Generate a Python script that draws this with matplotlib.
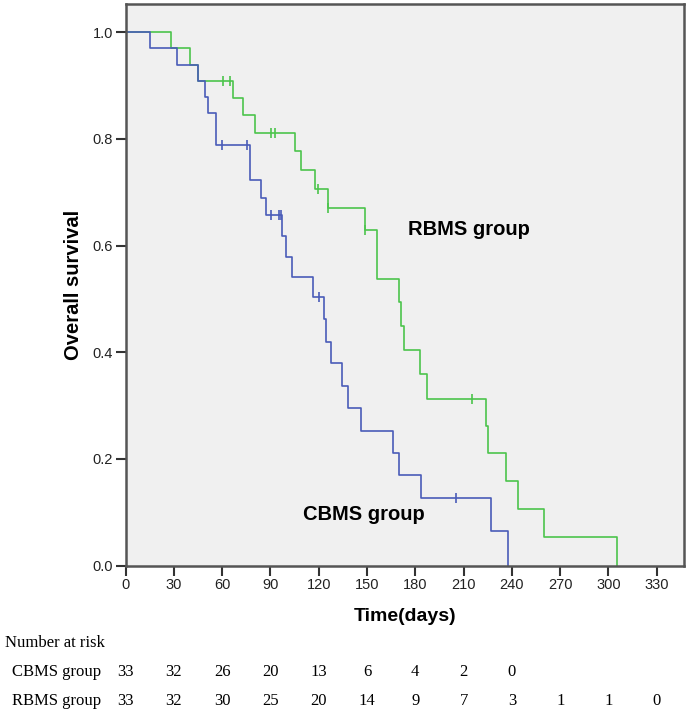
import matplotlib.pyplot as plt
import matplotlib.transforms as mtransforms

# CBMS group (blue): time of each drop (days) and survival after it
cbms_t = [0, 15.2, 32.2, 45.2, 49.4, 51.4, 56.4, 77.3, 84.2, 87.5, 97.2, 99.7,
          103.2, 116.3, 123.3, 124.3, 127.5, 134.3, 138.4, 146.3, 166.0, 170.0,
          183.4, 227.0, 237.4]
cbms_s = [1.0, 0.970, 0.939, 0.909, 0.879, 0.848, 0.788, 0.723, 0.690, 0.657,
          0.617, 0.578, 0.541, 0.503, 0.463, 0.420, 0.379, 0.337, 0.295, 0.253,
          0.211, 0.169, 0.127, 0.064, 0.0]
cbms_cens_t = [60.1, 75.3, 90.4, 95.5, 96.8, 120.2, 205.1]
cbms_cens_s = [0.788, 0.788, 0.657, 0.657, 0.657, 0.503, 0.127]

# RBMS group (green)
rbms_t = [0, 28.3, 40.1, 45.2, 67.0, 73.2, 80.4, 105.3, 109.0, 117.7, 126.0,
          148.8, 156.2, 170.1, 171.1, 172.8, 182.9, 187.1, 223.7, 225.0, 236.1,
          244.0, 259.9, 305.1]
rbms_s = [1.0, 0.970, 0.939, 0.909, 0.877, 0.844, 0.812, 0.777, 0.742, 0.707,
          0.670, 0.630, 0.538, 0.494, 0.449, 0.404, 0.360, 0.313, 0.262, 0.211,
          0.158, 0.106, 0.053, 0.0]
rbms_cens_t = [60.4, 64.9, 90.6, 92.9, 119.8, 126.0, 148.8, 215.0]
rbms_cens_s = [0.909, 0.909, 0.812, 0.812, 0.707, 0.670, 0.630, 0.313]

# number at risk table
risk_times = [0, 30, 60, 90, 120, 150, 180, 210, 240, 270, 300, 330]
cbms_risk = [33, 32, 26, 20, 13, 6, 4, 2, 0]
rbms_risk = [33, 32, 30, 25, 20, 14, 9, 7, 3, 1, 1, 0]

blue = '#4a5cb8'
green = '#4cc44c'
sans = ['Liberation Sans', 'DejaVu Sans']
narrow = ['Liberation Sans Narrow', 'Liberation Sans', 'DejaVu Sans']
serif = ['Liberation Serif', 'DejaVu Serif']

fig = plt.figure(figsize=(6.89, 7.12), dpi=100)
ax = fig.add_axes([125.5 / 689, 1 - 565.5 / 712, 558.5 / 689, 561.5 / 712])
ax.set_facecolor('#f0f0f0')

ax.step(rbms_t, rbms_s, where='post', color=green, lw=1.2)
ax.step(cbms_t, cbms_s, where='post', color=blue, lw=1.2)
ax.plot(rbms_cens_t, rbms_cens_s, ls='none', marker='|', ms=7, mew=1.2, color=green)
ax.plot(cbms_cens_t, cbms_cens_s, ls='none', marker='|', ms=7, mew=1.2, color=blue)

ax.set_xlim(0, 346.9)
ax.set_ylim(0, 1.053)
ax.set_xticks(risk_times)
ax.set_yticks([0, 0.2, 0.4, 0.6, 0.8, 1.0])
ax.set_yticklabels(['0.0', '0.2', '0.4', '0.6', '0.8', '1.0'])
ax.tick_params(direction='out', length=7, width=1.5, color='#333333', pad=2)
for lab in ax.get_xticklabels() + ax.get_yticklabels():
    lab.set_family(narrow)
    lab.set_fontsize(10.5)
    lab.set_color('#222222')
for sp in ax.spines.values():
    sp.set_color('#555555')
    sp.set_linewidth(1.8)

ax.set_xlabel('Time(days)', family=narrow, fontsize=14, fontweight='bold')
ax.xaxis.set_label_coords(0.5, -0.0917)
ax.xaxis.label.set_va('center')
ax.set_ylabel('Overall survival', family=sans, fontsize=14.5, fontweight='bold')
ax.yaxis.set_label_coords(-0.094, 0.5)
ax.yaxis.label.set_va('center')

ax.text(175.5, 0.63, 'RBMS group', family=sans, fontsize=14.5, fontweight='bold',
        va='center', ha='left')
ax.text(110, 0.096, 'CBMS group', family=sans, fontsize=14.5, fontweight='bold',
        va='center', ha='left')

# number at risk below the axes
trans = mtransforms.blended_transform_factory(ax.transData, fig.transFigure)
fig.text(5 / 689, 1 - 643 / 712, 'Number at risk', family=serif, fontsize=12,
         va='center', ha='left')
fig.text(12 / 689, 1 - 672 / 712, 'CBMS group', family=serif, fontsize=12,
         va='center', ha='left')
fig.text(12 / 689, 1 - 701 / 712, 'RBMS group', family=serif, fontsize=12,
         va='center', ha='left')
for t, n in zip(risk_times, cbms_risk):
    ax.text(t, 1 - 672 / 712, str(n), transform=trans, family=serif, fontsize=12,
            ha='center', va='center', clip_on=False)
for t, n in zip(risk_times, rbms_risk):
    ax.text(t, 1 - 701 / 712, str(n), transform=trans, family=serif, fontsize=12,
            ha='center', va='center', clip_on=False)

fig.savefig('out.png', dpi=100)
